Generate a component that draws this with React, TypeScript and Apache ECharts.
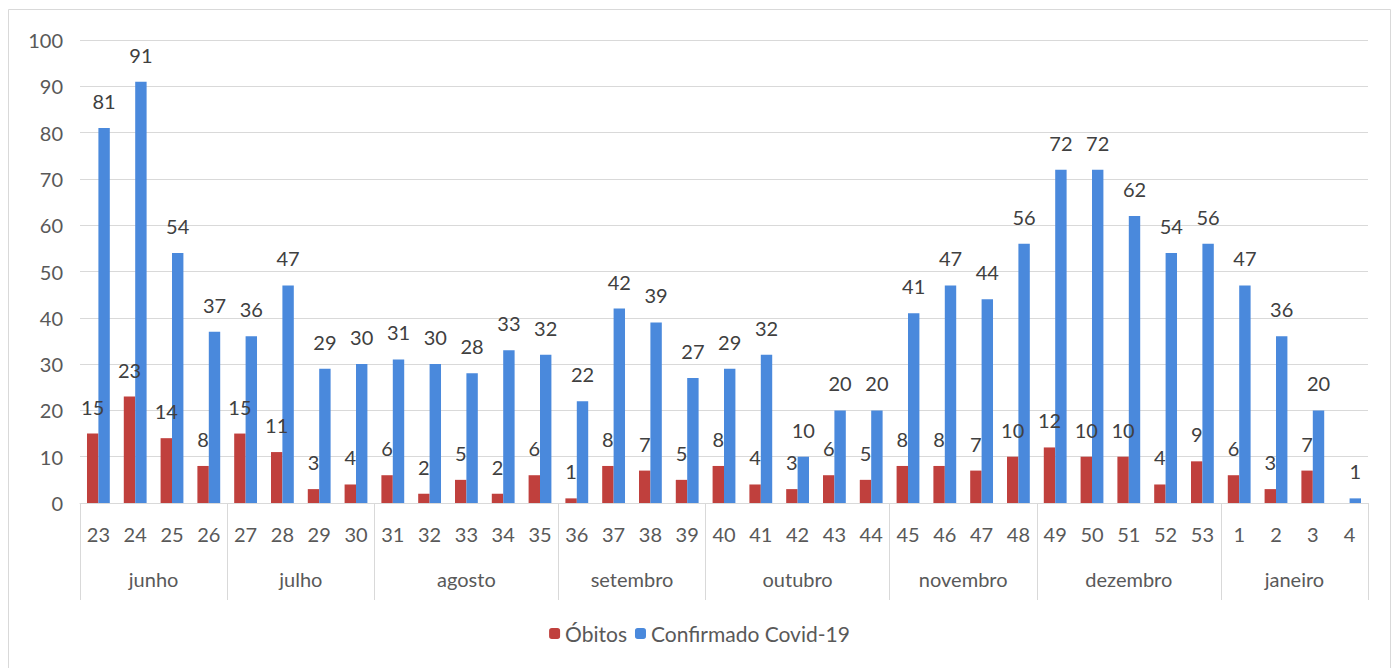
import React, { useEffect, useRef } from "react";
import * as echarts from "echarts";

const weeks = ["23","24","25","26","27","28","29","30","31","32","33","34","35","36","37","38","39","40","41","42","43","44","45","46","47","48","49","50","51","52","53","1","2","3","4"];
const obitos: (number | null)[] = [15,23,14,8,15,11,3,4,6,2,5,2,6,1,8,7,5,8,4,3,6,5,8,8,7,10,12,10,10,4,9,6,3,7,null];
const confirmados = [81,91,54,37,36,47,29,30,31,30,28,33,32,22,42,39,27,29,32,10,20,20,41,47,44,56,72,72,62,54,56,47,36,20,1];
const months = ["junho","julho","agosto","setembro","outubro","novembro","dezembro","janeiro"];
const monthWeekCounts = [4,4,5,4,5,4,5,4];
const yTicks = { min: 0, max: 100, interval: 10 };

const FONT = "Lato, 'Open Sans', sans-serif";
const TXT = "#595959";
const FS = 20;

export default function App() {
  const ref = useRef<HTMLDivElement>(null);
  useEffect(() => {
    if (!ref.current) return;
    const chart = echarts.init(ref.current, undefined, { renderer: "svg" });
    const bounds: number[] = [0];
    monthWeekCounts.forEach((c) => bounds.push(bounds[bounds.length - 1] + c));
    const mids = monthWeekCounts.map((c, i) => bounds[i] + c / 2);
    const total = bounds[bounds.length - 1];
    chart.setOption({
      animation: false,
      textStyle: { fontFamily: FONT },
      grid: { left: 80, right: 31, top: 40, bottom: 165, containLabel: false, outerBoundsMode: "none" },
      legend: {
        data: ["Óbitos", "Confirmado Covid-19"],
        bottom: 19,
        left: "center",
        itemWidth: 11,
        itemHeight: 11,
        itemGap: 8,
        textStyle: { color: TXT, fontSize: 21, fontFamily: FONT },
      },
      graphic: [
        {
          type: "rect",
          shape: { x: 8.5, y: 9.5, width: 1382, height: 670 },
          style: { fill: "none", stroke: "#d9d9d9", lineWidth: 1 },
          silent: true,
        },
      ],
      xAxis: [
        {
          type: "category",
          data: weeks,
          axisLine: { lineStyle: { color: "#d9d9d9" } },
          axisTick: { show: false },
          axisLabel: { color: TXT, fontSize: FS, margin: 21, interval: 0, fontFamily: FONT },
        },
        {
          type: "value",
          min: 0,
          max: total,
          position: "bottom",
          axisLine: { show: false },
          splitLine: { show: false },
          axisTick: {
            show: true,
            customValues: bounds,
            length: 97,
            lineStyle: { color: "#d9d9d9" },
          },
          axisLabel: {
            show: true,
            customValues: mids,
            margin: 66,
            color: TXT,
            fontSize: FS,
            fontFamily: FONT,
            formatter: (v: number) => {
              const i = mids.indexOf(v);
              return i >= 0 ? months[i] : "";
            },
          },
        },
      ],
      yAxis: {
        type: "value",
        min: yTicks.min,
        max: yTicks.max,
        interval: yTicks.interval,
        axisLine: { show: false },
        axisTick: { show: false },
        splitLine: { lineStyle: { color: "#d9d9d9" } },
        axisLabel: { color: TXT, fontSize: FS, margin: 17, fontFamily: FONT },
      },
      series: [
        {
          name: "Óbitos",
          type: "bar",
          xAxisIndex: 0,
          data: obitos,
          barGap: "0%",
          barCategoryGap: "38%",
          itemStyle: { color: "#c0403d" },
          label: { show: true, position: "top", distance: 17, color: "#404040", fontSize: FS, fontFamily: FONT },
        },
        {
          name: "Confirmado Covid-19",
          type: "bar",
          xAxisIndex: 0,
          data: confirmados,
          barGap: "0%",
          barCategoryGap: "38%",
          itemStyle: { color: "#4a89dc" },
          label: { show: true, position: "top", distance: 17, color: "#404040", fontSize: FS, fontFamily: FONT },
        },
      ],
    });
    return () => chart.dispose();
  }, []);
  return (
    <div
      ref={ref}
      style={{ position: "absolute", left: 0, top: 0, width: 1399, height: 668, background: "#fff" }}
    />
  );
}
